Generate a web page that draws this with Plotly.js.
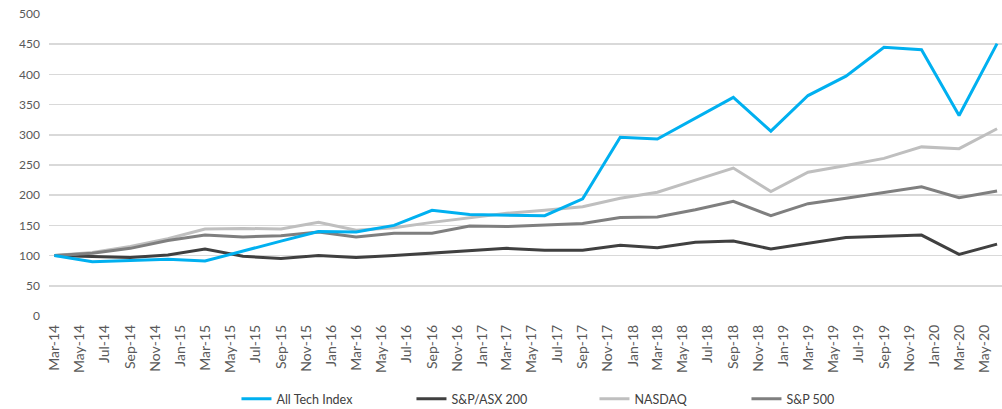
<!DOCTYPE html>
<html>
<head>
<meta charset="utf-8">
<script src="https://cdn.plot.ly/plotly-3.0.1.min.js"></script>
<style>
  html, body { margin: 0; padding: 0; background: #fff; }
  #chart { width: 1002px; height: 409px; }
</style>
</head>
<body>
<div id="chart"></div>
<script>
// Quarter-end dates, Mar-14 to Jun-20
const dates = [
  '2014-03-01','2014-06-01','2014-09-01','2014-12-01',
  '2015-03-01','2015-06-01','2015-09-01','2015-12-01',
  '2016-03-01','2016-06-01','2016-09-01','2016-12-01',
  '2017-03-01','2017-06-01','2017-09-01','2017-12-01',
  '2018-03-01','2018-06-01','2018-09-01','2018-12-01',
  '2019-03-01','2019-06-01','2019-09-01','2019-12-01',
  '2020-03-01','2020-06-01'
];

// Index levels, rebased to 100 at Mar-14
const allTech = [100, 90, 92, 94, 91, 108, 124, 140, 139, 150, 175, 168, 167, 166, 194, 296, 293, 327, 362, 306, 365, 397, 445, 441, 332, 451];
const asx200  = [100, 98, 97, 101, 111, 99, 95, 100, 97, 100, 104, 108, 112, 109, 109, 117, 113, 122, 124, 111, 121, 130, 132, 134, 102, 119];
const nasdaq  = [100, 105, 115, 128, 144, 145, 144, 155, 142, 146, 155, 163, 170, 175, 181, 195, 205, 225, 245, 206, 238, 249, 261, 280, 277, 310];
const sp500   = [100, 104, 112, 125, 134, 131, 133, 139, 131, 137, 137, 149, 148, 151, 153, 163, 164, 176, 190, 166, 186, 195, 205, 214, 196, 207];

const seriesNames  = ['All Tech Index', 'S&P/ASX 200', 'NASDAQ', 'S&P 500'];
const seriesColors = ['#00B0F0', '#404040', '#BFBFBF', '#7F7F7F'];
const seriesValues = [allTech, asx200, nasdaq, sp500];
// Width reserved for each legend label, so the entries spread out evenly
const legendWidths = [130, 138, 107, 60];

const traces = seriesValues.map((vals, i) => ({
  type: 'scatter',
  mode: 'lines',
  x: dates,
  y: vals,
  name: seriesNames[i],
  legendrank: i + 1,
  legendwidth: legendWidths[i],
  line: { color: seriesColors[i], width: 3 },
  hoverinfo: 'x+y+name'
}));

// Draw the blue series on top of the others
const ordered = [traces[1], traces[2], traces[3], traces[0]];

const family = 'Lato, "Open Sans", sans-serif';

const layout = {
  width: 1002,
  height: 409,
  margin: { l: 49, r: 0, t: 14, b: 93 },
  paper_bgcolor: '#ffffff',
  plot_bgcolor: '#ffffff',
  font: { family: family, size: 12, color: '#595959' },
  showlegend: true,
  legend: {
    orientation: 'h',
    xref: 'container',
    yref: 'container',
    x: 0.236,
    xanchor: 'left',
    y: 0.024,
    yanchor: 'middle',
    traceorder: 'normal',
    font: { family: family, size: 12.5, color: '#404040' }
  },
  xaxis: {
    type: 'date',
    range: ['2014-02-16', '2020-06-13'],
    tick0: '2014-03-01',
    dtick: 'M2',
    tickformat: '%b-%y',
    tickangle: -90,
    ticks: '',
    ticklabelstandoff: 5,
    showgrid: false,
    showline: false,
    zeroline: false,
    automargin: false,
    fixedrange: true,
    tickfont: { family: family, size: 14, color: '#595959' }
  },
  yaxis: {
    range: [0, 500],
    dtick: 50,
    tick0: 0,
    showgrid: true,
    gridcolor: '#D9D9D9',
    gridwidth: 1.5,
    zeroline: false,
    showline: false,
    ticks: '',
    ticklabelstandoff: 8,
    automargin: false,
    fixedrange: true,
    tickfont: { family: family, size: 12, color: '#595959' }
  }
};

Plotly.newPlot('chart', ordered, layout, { displayModeBar: false, staticPlot: true });
</script>
</body>
</html>
